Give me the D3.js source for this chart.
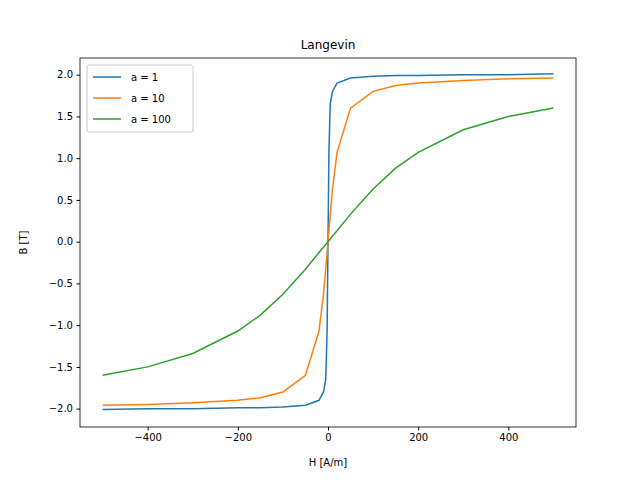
<!DOCTYPE html>
<html>
<head>
<meta charset="utf-8">
<script src="https://cdn.jsdelivr.net/npm/d3@7"></script>
<style>
body { margin: 0; background: #fff; }
text { font-family: "DejaVu Sans", sans-serif; }
</style>
</head>
<body>
<svg id="chart" width="640" height="480"></svg>
<script>
// values
var hValues = [-500, -400, -300, -200, -150, -100, -50, -20, -10, -5, -2, 0, 2, 5, 10, 20, 50, 100, 150, 200, 300, 400, 500]
var bA1 = [-2.01, -2.0, -2.0, -1.99, -1.99, -1.98, -1.96, -1.90, -1.80, -1.65, -1.07, 0, 1.07, 1.65, 1.80, 1.90, 1.96, 1.98, 1.99, 1.99, 2.0, 2.0, 2.01]
var bA10 = [-1.96, -1.95, -1.93, -1.90, -1.87, -1.80, -1.60, -1.07, -0.63, -0.33, -0.13, 0, 0.13, 0.33, 0.63, 1.07, 1.60, 1.80, 1.87, 1.90, 1.93, 1.95, 1.96]
var bA100 = [-1.60, -1.50, -1.34, -1.07, -0.88, -0.63, -0.33, -0.13, -0.067, -0.033, -0.013, 0, 0.013, 0.033, 0.067, 0.13, 0.33, 0.63, 0.88, 1.07, 1.34, 1.50, 1.60]
var seriesNames = ["a = 1", "a = 10", "a = 100"]
var seriesColors = ["#1f77b4", "#ff7f0e", "#2ca02c"]
var xTicks = [-400, -200, 0, 200, 400]
var yTicks = [-2.0, -1.5, -1.0, -0.5, 0.0, 0.5, 1.0, 1.5, 2.0]

var svg = d3.select("#chart")
var plotLeft = 80, plotRight = 576, plotTop = 58, plotBottom = 427

var x = d3.scaleLinear().domain([-550, 550]).range([plotLeft, plotRight])
var y = d3.scaleLinear().domain([-2.22, 2.2]).range([plotBottom, plotTop])

var tickFmt = function(d) { return d3.format("")(d).replace("-", "\u2212") }
svg.append("g").attr("transform", "translate(0," + plotBottom + ")")
  .call(d3.axisBottom(x).tickValues(xTicks).tickSize(3.5).tickPadding(3.5).tickFormat(tickFmt))
svg.append("g").attr("transform", "translate(" + plotLeft + ",0)")
  .call(d3.axisLeft(y).tickValues(yTicks).tickSize(3.5).tickPadding(3.5)
    .tickFormat(function(d) { return d3.format(".1f")(d).replace("-", "\u2212") }))
svg.selectAll(".domain").remove()
svg.selectAll(".tick text").attr("font-size", 10).attr("fill", "#000")
svg.selectAll(".tick line").attr("stroke", "#000")

svg.append("rect").attr("x", plotLeft).attr("y", plotTop)
  .attr("width", plotRight - plotLeft).attr("height", plotBottom - plotTop)
  .attr("fill", "none").attr("stroke", "#000").attr("stroke-width", 0.8)

var all = [bA1, bA10, bA100]
var line = d3.line().x(function(d, i) { return x(hValues[i]) }).y(function(d) { return y(d) })
all.forEach(function(vals, k) {
  svg.append("path").datum(vals).attr("d", line).attr("fill", "none")
    .attr("stroke", seriesColors[k]).attr("stroke-width", 1.5)
})

svg.append("text").attr("x", (plotLeft + plotRight) / 2).attr("y", 49).attr("text-anchor", "middle")
  .attr("font-size", 12).text("Langevin")
svg.append("text").attr("x", (plotLeft + plotRight) / 2).attr("y", 466).attr("text-anchor", "middle")
  .attr("font-size", 10).text("H [A/m]")
svg.append("text").attr("transform", "translate(27," + (plotTop + plotBottom) / 2 + ") rotate(-90)")
  .attr("text-anchor", "middle").attr("font-size", 10).text("B [T]")

// legend
var lg = svg.append("g").attr("transform", "translate(87,65)")
lg.append("rect").attr("width", 106).attr("height", 67).attr("rx", 2)
  .attr("fill", "#fff").attr("fill-opacity", 0.8).attr("stroke", "#ccc")
seriesNames.forEach(function(name, k) {
  var yy = 12 + k * 21
  lg.append("line").attr("x1", 6).attr("x2", 34).attr("y1", yy).attr("y2", yy)
    .attr("stroke", seriesColors[k]).attr("stroke-width", 1.5)
  lg.append("text").attr("x", 44).attr("y", yy + 4).attr("font-size", 10).text(name)
})
</script>
</body>
</html>
